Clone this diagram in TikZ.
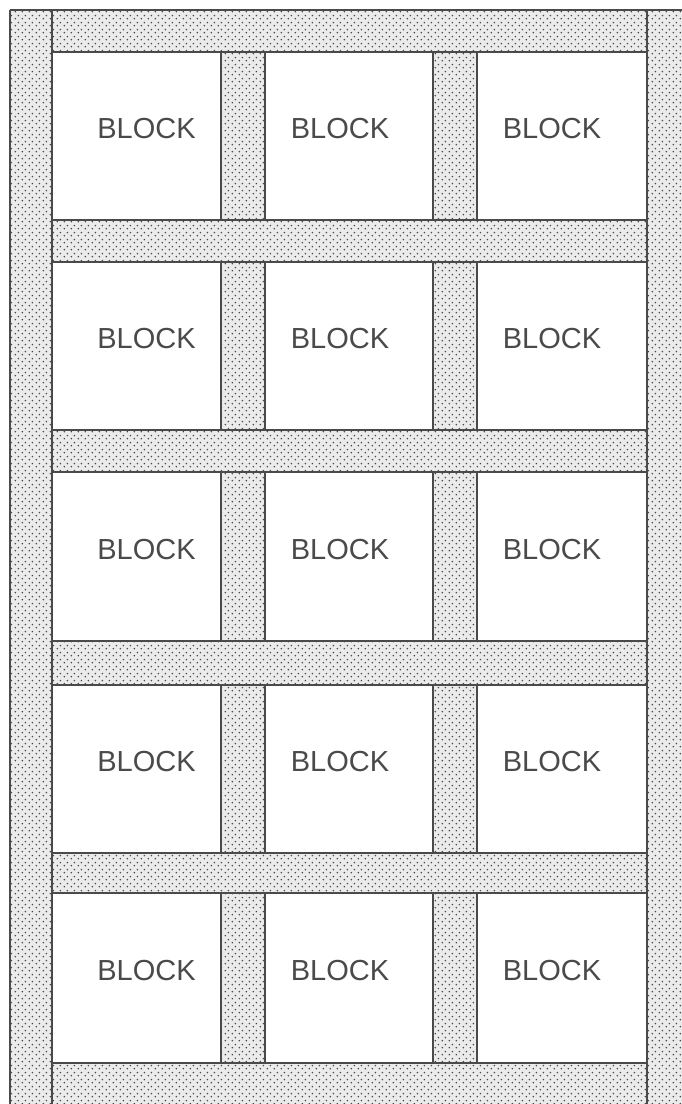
\documentclass[tikz,border=0pt]{standalone}
\usepackage{fontspec}
\setmainfont{Liberation Sans}
\usetikzlibrary{patterns,calc}
\pgfdeclarepatternformonly{stipple}{\pgfqpoint{0pt}{0pt}}{\pgfqpoint{7pt}{7pt}}{\pgfqpoint{7pt}{7pt}}{%
  \pgfpathcircle{\pgfqpoint{1.5pt}{1.5pt}}{1.0pt}%
  \pgfpathcircle{\pgfqpoint{5pt}{5pt}}{1.0pt}%
  \pgfusepath{fill}}
\definecolor{ink}{HTML}{4A4A4A}
\tikzset{
  frame/.style={draw=ink, line width=1.4pt},
  blockbox/.style={draw=ink, line width=1.4pt, fill=white, inner sep=0pt, outer sep=0pt},
  lbl/.style={text=ink, font=\fontsize{29}{32}\selectfont, inner sep=0pt},
  strip/.style={pattern=stipple, pattern color=black!70}
}
\begin{document}
\begin{tikzpicture}[x=1pt,y=-1pt]
\useasboundingbox (0,0) rectangle (682,1104);
\fill[black!8] (10,10) rectangle (682,1104);
\fill[strip] (10,10) rectangle (682,1104);
\foreach \ro/\tp/\bt in {1/52/220, 2/262/430, 3/472/641, 4/685/853, 5/893/1063}{
  \foreach \co/\lf/\rt/\dx in {1/52/221/10, 2/265/433/-9, 3/477/647/-10}{
    \node[blockbox, minimum width={\rt-\lf}, minimum height={\bt-\tp}] (b\ro\co) at ({(\lf+\rt)/2},{(\tp+\bt)/2}) {};
    \node[lbl] (t\ro\co) at ($(b\ro\co.center)+(\dx,-7)$) {BLOCK};
  }
  \draw[frame] (b\ro1.north west) -- (b\ro3.north east);
  \draw[frame] (b\ro1.south west) -- (b\ro3.south east);
}
\coordinate (otl) at (10,10);
\coordinate (otr) at (682,10);
\coordinate (obl) at (10,1104);
\coordinate (itl) at (52,10);
\coordinate (ibl) at (52,1104);
\coordinate (rtl) at (647,10);
\coordinate (rbl) at (647,1104);
\draw[frame] (otl) -- (otr);
\draw[frame] (otl) -- (obl);
\draw[frame] (itl) -- (ibl);
\draw[frame] (rtl) -- (rbl);
\end{tikzpicture}
\end{document}
